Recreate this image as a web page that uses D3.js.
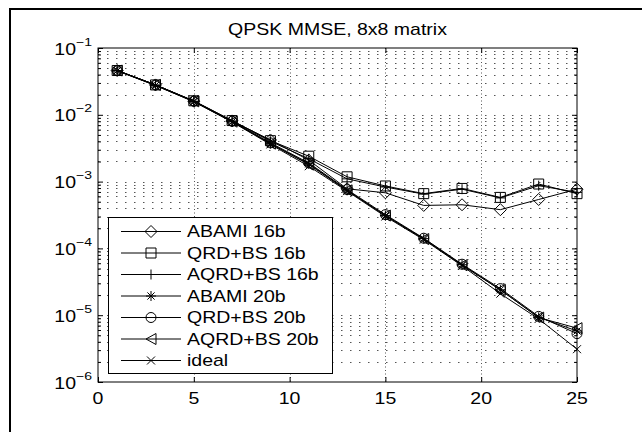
<!DOCTYPE html>
<html>
<head>
<meta charset="utf-8">
<script src="https://cdn.jsdelivr.net/npm/d3@7"></script>
<style>
  body { margin: 0; background: #fff; }
  svg { display: block; }
  text { font-family: "Liberation Sans", Arial, sans-serif; fill: #000; }
</style>
</head>
<body>
<div id="chart"></div>
<script>
// SNR points (x axis)
const snr = [1, 3, 5, 7, 9, 11, 13, 15, 17, 19, 21, 23, 25];

// BER per detector
const abami16 = [0.046, 0.028, 0.016, 0.0081, 0.0042, 0.0021, 0.00078, 0.00068, 0.00044, 0.00045, 0.00038, 0.00054, 0.00077];
const qrdbs16 = [0.046, 0.028, 0.0162, 0.0082, 0.0041, 0.0024, 0.00118, 0.00086, 0.00066, 0.00079, 0.00058, 0.00092, 0.00066];
const aqrdbs16 = [0.046, 0.028, 0.016, 0.0081, 0.0040, 0.0022, 0.0011, 0.00083, 0.00065, 0.00077, 0.00057, 0.00087, 0.00069];
const abami20 = [0.046, 0.0275, 0.0158, 0.0079, 0.0037, 0.00185, 0.00074, 0.00031, 0.00014, 0.000057, 0.000024, 0.0000093, 0.0000058];
const qrdbs20 = [0.046, 0.028, 0.016, 0.008, 0.0038, 0.0019, 0.00076, 0.00032, 0.000142, 0.000058, 0.000025, 0.0000096, 0.0000053];
const aqrdbs20 = [0.046, 0.028, 0.0159, 0.0079, 0.0037, 0.0018, 0.00074, 0.00031, 0.000138, 0.000056, 0.000024, 0.0000092, 0.0000064];
const ideal = [0.0455, 0.0275, 0.0157, 0.0078, 0.0036, 0.0017, 0.00072, 0.0003, 0.000135, 0.000055, 0.000021, 0.0000088, 0.0000031];

const seriesNames = ['ABAMI 16b', 'QRD+BS 16b', 'AQRD+BS 16b', 'ABAMI 20b', 'QRD+BS 20b', 'AQRD+BS 20b', 'ideal'];
const seriesMarkers = ['diamond', 'square', 'plus', 'star', 'circle', 'triangle', 'cross'];
const seriesValues = [abami16, qrdbs16, aqrdbs16, abami20, qrdbs20, aqrdbs20, ideal];

const xTicks = [0, 5, 10, 15, 20, 25];
const yExponents = [-6, -5, -4, -3, -2, -1];
const title = 'QPSK MMSE, 8x8 matrix';

const W = 642, H = 432;
const box = { left: 98, right: 577, top: 48, bottom: 382 };
const SX = 1.22; // glyphs in the reference are a bit wide

const x = d3.scaleLinear().domain([0, 25]).range([box.left, box.right]);
const y = d3.scaleLog().domain([1e-6, 1e-1]).range([box.bottom, box.top]);

const decades = yExponents.map(e => Math.pow(10, e));
const minors = [];
yExponents.slice(0, -1).forEach(e => {
  for (let k = 2; k <= 9; k++) minors.push(k * Math.pow(10, e));
});

const svg = d3.select('#chart').append('svg').attr('width', W).attr('height', H);
svg.append('rect').attr('width', W).attr('height', H).attr('fill', '#fff');

// outer figure frame (runs off the bottom/right of the crop)
svg.append('rect')
  .attr('x', 10).attr('y', 9).attr('width', 720).attr('height', 520)
  .attr('fill', 'none').attr('stroke', '#000').attr('stroke-width', 2);

function label(g, px, py, str, anchor, size) {
  return g.append('text')
    .attr('transform', `translate(${px},${py}) scale(${SX},1)`)
    .attr('text-anchor', anchor)
    .attr('font-size', size)
    .text(str);
}

// dotted grid
const grid = svg.append('g').attr('stroke', '#555').attr('stroke-width', 1).attr('fill', 'none');
decades.concat(minors)
  .filter(v => v > 1e-6 && v < 1e-1)
  .forEach(v => {
    grid.append('line')
      .attr('x1', box.left).attr('x2', box.right)
      .attr('y1', Math.round(y(v)) + 0.5).attr('y2', Math.round(y(v)) + 0.5)
      .attr('stroke-dasharray', '1.5,7.5');
  });
xTicks.slice(1, -1).forEach(v => {
  grid.append('line')
    .attr('x1', Math.round(x(v)) + 0.5).attr('x2', Math.round(x(v)) + 0.5)
    .attr('y1', box.top).attr('y2', box.bottom)
    .attr('stroke-dasharray', '1,2.5');
});

// ticks on all four sides, pointing in
function ticks(axis, transform) {
  const g = svg.append('g').attr('transform', transform).call(axis);
  g.select('.domain').remove();
  g.selectAll('.tick line').attr('stroke', '#000');
  return g;
}
ticks(d3.axisBottom(x).tickValues(xTicks).tickSize(-5).tickFormat(''), `translate(0,${box.bottom})`);
ticks(d3.axisTop(x).tickValues(xTicks).tickSize(-5).tickFormat(''), `translate(0,${box.top})`);
ticks(d3.axisLeft(y).tickValues(decades).tickSize(-5).tickFormat(''), `translate(${box.left},0)`);
ticks(d3.axisRight(y).tickValues(decades).tickSize(-5).tickFormat(''), `translate(${box.right},0)`);
ticks(d3.axisLeft(y).tickValues(minors).tickSize(-3).tickFormat(''), `translate(${box.left},0)`);
ticks(d3.axisRight(y).tickValues(minors).tickSize(-3).tickFormat(''), `translate(${box.right},0)`);

svg.append('rect')
  .attr('x', box.left).attr('y', box.top)
  .attr('width', box.right - box.left).attr('height', box.bottom - box.top)
  .attr('fill', 'none').attr('stroke', '#000').attr('stroke-width', 1);

// tick labels
const labels = svg.append('g');
xTicks.forEach(v => label(labels, x(v), box.bottom + 22, String(v), 'middle', 16));
yExponents.forEach((e, i) => {
  const t = label(labels, box.left - 6, y(decades[i]) + 6.5, '', 'end', 16);
  t.append('tspan').text('10');
  t.append('tspan').attr('dy', -9).attr('font-size', 11.5).text('\u2212' + Math.abs(e));
});

label(svg, (box.left + box.right) / 2, 35, title, 'middle', 16);

// markers
const markerPath = {
  diamond: 'M0,-6L6,0L0,6L-6,0Z',
  square: 'M-5,-5H5V5H-5Z',
  plus: 'M-5,0H5M0,-5V5',
  star: 'M-5,0H5M0,-5V5M-3.6,-3.6L3.6,3.6M-3.6,3.6L3.6,-3.6',
  circle: 'M5,0A5,5 0 1,1 -5,0A5,5 0 1,1 5,0Z',
  triangle: 'M-5,0L5,-5.5L5,5.5Z',
  cross: 'M-4,-4L4,4M-4,4L4,-4'
};

const line = d3.line().x((d, i) => x(snr[i])).y(d => y(d));

const plot = svg.append('g');
seriesValues.forEach((vals, s) => {
  const g = plot.append('g');
  g.append('path')
    .attr('d', line(vals))
    .attr('fill', 'none')
    .attr('stroke', '#000')
    .attr('stroke-width', 1);
  g.selectAll('path.mk').data(vals).join('path')
    .attr('class', 'mk')
    .attr('transform', (d, i) => `translate(${x(snr[i])},${y(d)})`)
    .attr('d', markerPath[seriesMarkers[s]])
    .attr('fill', 'none')
    .attr('stroke', '#000')
    .attr('stroke-width', 1);
});

// legend
const lg = svg.append('g');
lg.append('rect')
  .attr('x', 108.5).attr('y', 217.5).attr('width', 224).attr('height', 156)
  .attr('fill', '#fff').attr('stroke', '#000').attr('stroke-width', 1);
seriesNames.forEach((name, i) => {
  const ry = 231.5 + i * 21.5;
  lg.append('line')
    .attr('x1', 121).attr('x2', 181).attr('y1', ry).attr('y2', ry)
    .attr('stroke', '#000').attr('stroke-width', 1);
  lg.append('path')
    .attr('transform', `translate(151,${ry})`)
    .attr('d', markerPath[seriesMarkers[i]])
    .attr('fill', 'none').attr('stroke', '#000').attr('stroke-width', 1);
  label(lg, 187, ry + 5.8, name, 'start', 16);
});
</script>
</body>
</html>
